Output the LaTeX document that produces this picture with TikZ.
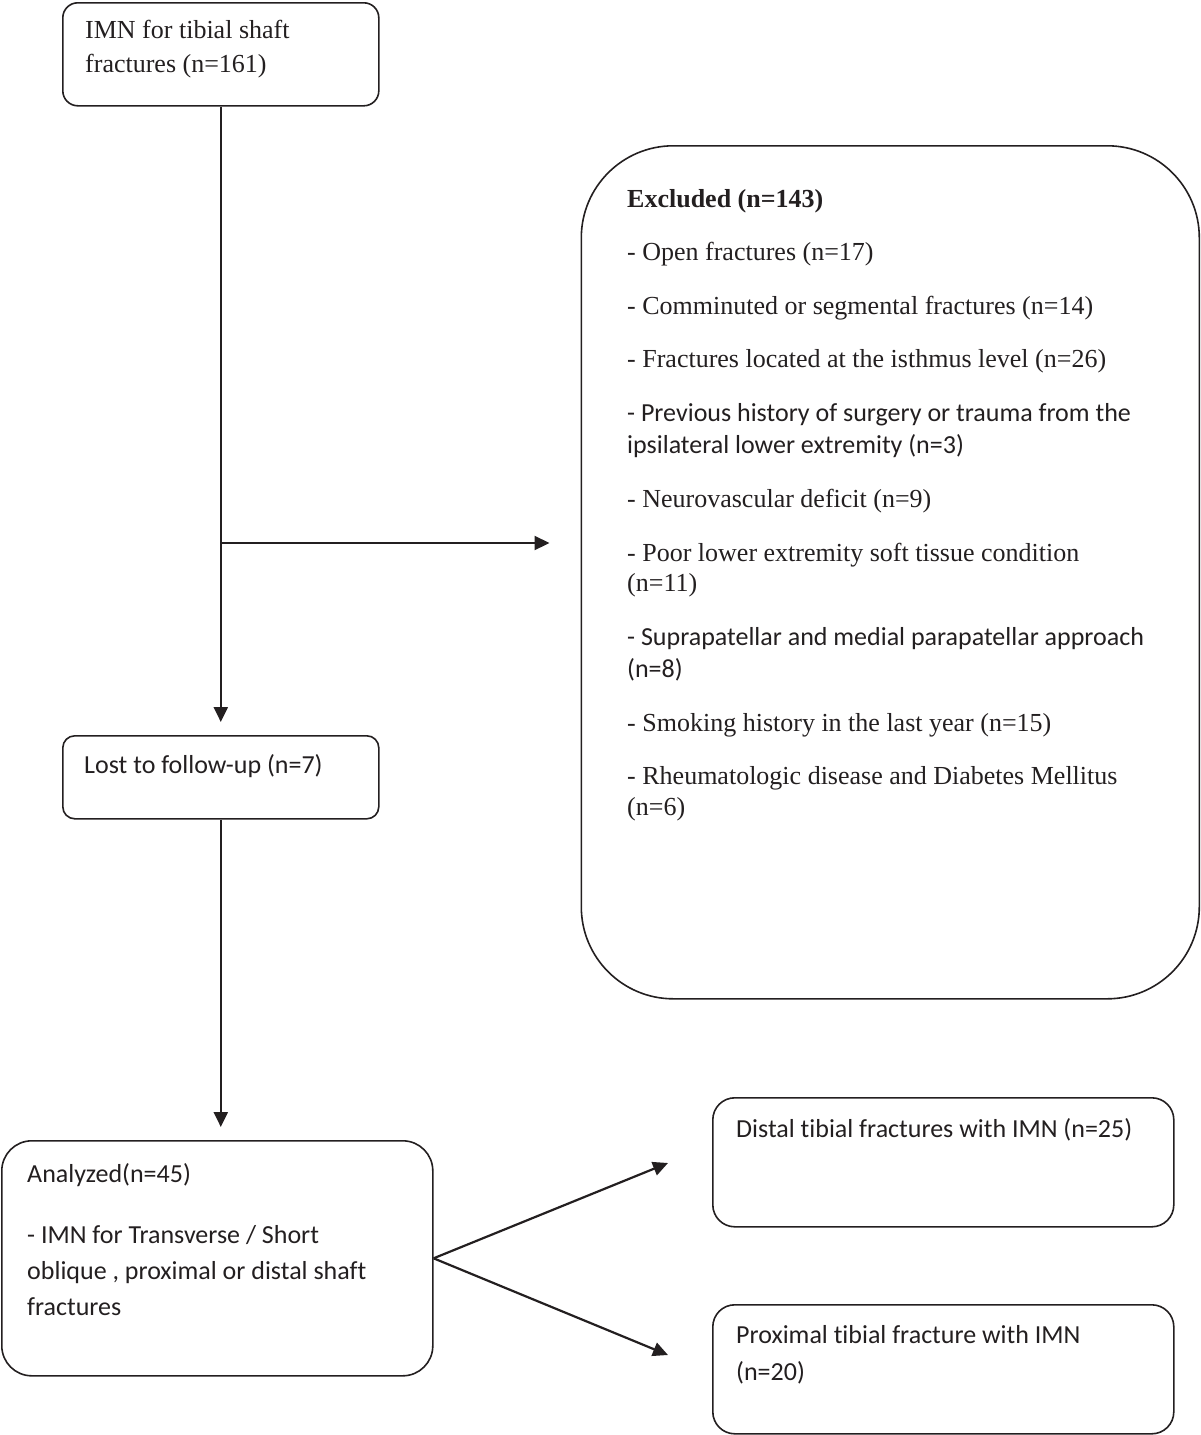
\documentclass[tikz,border=0pt]{standalone}
\usepackage{fontspec}
\setmainfont{Liberation Serif}
\newfontfamily\sansf[Ligatures=NoCommon,Contextuals=NoAlternate]{Carlito}
\usetikzlibrary{arrows.meta}
\definecolor{ink}{HTML}{231F20}
\begin{document}
\begin{tikzpicture}[x=1pt,y=-1pt,
  box/.style={draw=ink, line width=1.6pt, anchor=north west, inner sep=0pt},
  arr/.style={draw=ink, line width=2.2pt, -{Triangle[length=15pt,width=14pt]}},
  ser/.style={anchor=base west, inner sep=0pt, font=\fontsize{26}{30}\selectfont, text=ink},
  san/.style={anchor=base west, inner sep=0pt, font=\sansf\fontsize{26}{30}\selectfont, text=ink},
  serb/.style={ser, font=\bfseries\fontsize{26}{30}\selectfont}]
\useasboundingbox (0,0) rectangle (1200,1435);
% boxes
\node[box, minimum width=316pt, minimum height=103pt, rounded corners=15pt] (b1) at (62,2) {};
\node[box, minimum width=618pt, minimum height=853pt, rounded corners=92pt] (ex) at (580.5,145) {};
\node[box, minimum width=316pt, minimum height=83pt, rounded corners=12pt] (lost) at (62,735) {};
\node[box, minimum width=431pt, minimum height=235pt, rounded corners=30pt] (an) at (1,1140) {};
\node[box, minimum width=461pt, minimum height=129pt, rounded corners=22pt] (dis) at (712,1097) {};
\node[box, minimum width=461pt, minimum height=129pt, rounded corners=22pt] (pro) at (712,1304) {};
% texts
\node[ser] (t1a) at (85,38) {IMN for tibial shaft};
\node[ser] (t1b) at (85,72) {fractures (n=161)};
\node[san] (tl) at (84,773) {Lost to follow-up (n=7)};
\node[serb] (e0) at (627,207) {Excluded (n=143)};
\node[ser] (e1) at (627,260) {- Open fractures (n=17)};
\node[ser] (e2) at (627,314) {- Comminuted or segmental fractures (n=14)};
\node[ser] (e3) at (627,367) {- Fractures located at the isthmus level (n=26)};
\node[san] (e4a) at (627,421) {- Previous history of surgery or trauma from the};
\node[san] (e4b) at (627,453) {ipsilateral lower extremity (n=3)};
\node[ser] (e5) at (627,507) {- Neurovascular deficit (n=9)};
\node[ser] (e6a) at (627,561) {- Poor lower extremity soft tissue condition};
\node[ser] (e6b) at (627,591) {(n=11)};
\node[san] (e7a) at (627,645) {- Suprapatellar and medial parapatellar approach};
\node[san] (e7b) at (627,677) {(n=8)};
\node[ser] (e8) at (627,731) {- Smoking history in the last year (n=15)};
\node[ser] (e9a) at (627,784) {- Rheumatologic disease and Diabetes Mellitus};
\node[ser] (e9b) at (627,815) {(n=6)};
\node[san] (a0) at (27,1182) {Analyzed(n=45)};
\node[san] (a1) at (27,1243) {- IMN for Transverse / Short};
\node[san] (a2) at (27,1279) {oblique , proximal or distal shaft};
\node[san] (a3) at (27,1315) {fractures};
\node[san] (d0) at (736,1137) {Distal tibial fractures with IMN (n=25)};
\node[san] (p0) at (736,1343) {Proximal tibial fracture with IMN};
\node[san] (p1) at (736,1380) {(n=20)};
% connectors
\coordinate (br) at (220,543);
\coordinate (dtip) at (668,1163);
\coordinate (ptip) at (668,1355);
\draw[arr, shorten >=13pt] (b1.south) -- (lost.north);
\draw[arr, shorten >=31pt] (br) -- (br -| ex.west);
\draw[arr, shorten >=13pt] (lost.south) -- (lost.south |- an.north);
\draw[arr] (an.east) -- (dtip);
\draw[arr] (an.east) -- (ptip);
\end{tikzpicture}
\end{document}
